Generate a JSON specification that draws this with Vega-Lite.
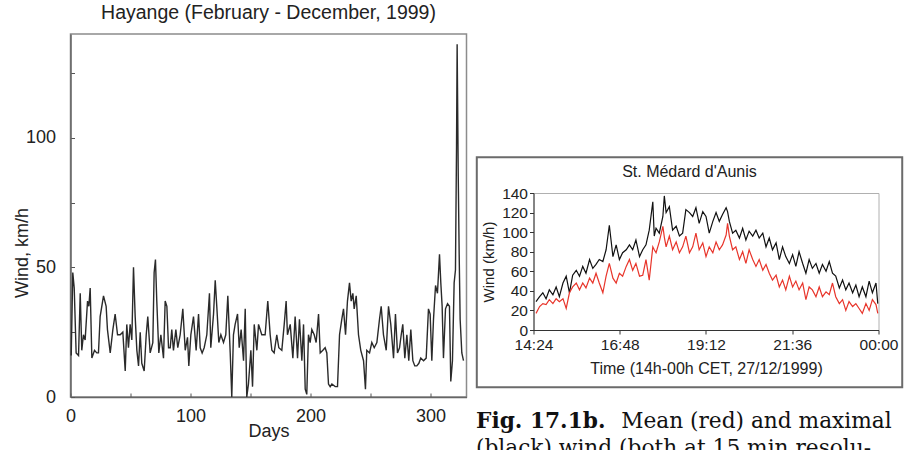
{
  "$schema": "https://vega.github.io/schema/vega-lite/v6.json",
  "padding": {"left": 12.5, "top": 2, "right": 0, "bottom": 0},
  "background": "white",
  "config": {"font": "Liberation Sans", "view": {"stroke": null}},
  "datasets": {
    "hay": [
      {"d":0.6,"v":16},{"d":1.9,"v":48},{"d":3.1,"v":42},{"d":4.7,"v":17},{"d":6.7,"v":16},{"d":8.1,"v":40},{"d":9.4,"v":18},{"d":10.8,"v":24},{"d":12.2,"v":22},{"d":14.2,"v":37},{"d":15.3,"v":35},{"d":16.4,"v":42},{"d":17.8,"v":15},{"d":20,"v":18},{"d":21.9,"v":17},{"d":23.3,"v":17},{"d":24.7,"v":31},{"d":27.5,"v":39},{"d":29.7,"v":35},{"d":30.8,"v":26},{"d":33.1,"v":17},{"d":35.3,"v":26},{"d":37.2,"v":32},{"d":39.2,"v":24},{"d":41.4,"v":24},{"d":43.6,"v":25},{"d":45.6,"v":10},{"d":46.9,"v":28},{"d":48.3,"v":19},{"d":49.7,"v":28},{"d":51.1,"v":22},{"d":52.5,"v":50},{"d":53.9,"v":31},{"d":55.3,"v":18},{"d":56.7,"v":12},{"d":58.1,"v":25},{"d":59.4,"v":13},{"d":61.4,"v":10},{"d":63.1,"v":24},{"d":64.4,"v":31},{"d":66.4,"v":17},{"d":68.6,"v":21},{"d":69.7,"v":48},{"d":70.8,"v":53},{"d":71.9,"v":37},{"d":73.6,"v":17},{"d":75.3,"v":24},{"d":77.5,"v":15},{"d":78.9,"v":37},{"d":80.3,"v":35},{"d":81.7,"v":19},{"d":83.1,"v":19},{"d":84.4,"v":26},{"d":85.8,"v":18},{"d":87.8,"v":26},{"d":89.4,"v":19},{"d":91.4,"v":24},{"d":93.6,"v":34},{"d":95.6,"v":18},{"d":97.5,"v":23},{"d":98.6,"v":12},{"d":100.3,"v":24},{"d":102.5,"v":31},{"d":104.7,"v":18},{"d":106.7,"v":32},{"d":108.1,"v":19},{"d":109.7,"v":17},{"d":111.4,"v":19},{"d":113.6,"v":24},{"d":115.8,"v":40},{"d":116.9,"v":19},{"d":119.2,"v":32},{"d":120.6,"v":45},{"d":121.9,"v":35},{"d":123.6,"v":21},{"d":125.3,"v":24},{"d":127.5,"v":21},{"d":129.4,"v":24},{"d":131.1,"v":39},{"d":133.1,"v":17},{"d":134.4,"v":0},{"d":135.8,"v":24},{"d":137.2,"v":28},{"d":139.2,"v":32},{"d":140.6,"v":19},{"d":142.2,"v":26},{"d":144.2,"v":14},{"d":145.6,"v":34},{"d":146.9,"v":0},{"d":148.3,"v":5},{"d":150.3,"v":18},{"d":151.7,"v":4},{"d":153.1,"v":28},{"d":155.3,"v":18},{"d":156.7,"v":28},{"d":159.4,"v":24},{"d":162.2,"v":24},{"d":164.4,"v":37},{"d":166.4,"v":24},{"d":167.8,"v":18},{"d":169.7,"v":17},{"d":171.9,"v":24},{"d":173.6,"v":19},{"d":176.1,"v":18},{"d":178.1,"v":28},{"d":179.7,"v":37},{"d":180.8,"v":24},{"d":183.1,"v":28},{"d":185.3,"v":15},{"d":187.2,"v":31},{"d":189.2,"v":15},{"d":190.8,"v":30},{"d":192.8,"v":14},{"d":194.2,"v":28},{"d":195.6,"v":3},{"d":196.9,"v":1},{"d":198.3,"v":24},{"d":199.7,"v":21},{"d":201.1,"v":26},{"d":203.1,"v":24},{"d":204.7,"v":21},{"d":206.7,"v":32},{"d":208.1,"v":17},{"d":210.3,"v":18},{"d":212.2,"v":19},{"d":213.6,"v":17},{"d":215,"v":5},{"d":216.4,"v":4},{"d":217.8,"v":5},{"d":220.6,"v":4},{"d":222.5,"v":4},{"d":224.2,"v":24},{"d":226.1,"v":30},{"d":227.5,"v":34},{"d":229.2,"v":24},{"d":230.8,"v":37},{"d":232.5,"v":44},{"d":233.9,"v":37},{"d":235.3,"v":40},{"d":236.4,"v":34},{"d":238.1,"v":39},{"d":240,"v":24},{"d":241.9,"v":18},{"d":244.2,"v":14},{"d":245.8,"v":3},{"d":246.9,"v":18},{"d":249.2,"v":17},{"d":251.1,"v":21},{"d":253.1,"v":19},{"d":255.3,"v":21},{"d":257.5,"v":30},{"d":258.9,"v":35},{"d":260.8,"v":24},{"d":263.1,"v":18},{"d":265,"v":35},{"d":266.9,"v":28},{"d":269.2,"v":15},{"d":270.8,"v":32},{"d":272.5,"v":17},{"d":274.2,"v":19},{"d":275.6,"v":24},{"d":276.9,"v":28},{"d":278.6,"v":15},{"d":280.3,"v":24},{"d":281.9,"v":14},{"d":283.6,"v":26},{"d":285.3,"v":14},{"d":286.9,"v":12},{"d":288.6,"v":12},{"d":290.3,"v":13},{"d":291.9,"v":15},{"d":294.2,"v":14},{"d":296.4,"v":15},{"d":298.3,"v":34},{"d":299.7,"v":32},{"d":301.1,"v":14},{"d":302.5,"v":30},{"d":304.2,"v":43},{"d":305.8,"v":40},{"d":307.5,"v":55},{"d":308.6,"v":44},{"d":309.7,"v":35},{"d":310.8,"v":15},{"d":312.5,"v":34},{"d":314.2,"v":36},{"d":315.8,"v":35},{"d":316.9,"v":6},{"d":318.3,"v":14},{"d":319.7,"v":44},{"d":320.8,"v":49},{"d":321.7,"v":97},{"d":322.2,"v":136},{"d":323.1,"v":86},{"d":323.9,"v":55},{"d":324.7,"v":30},{"d":326.1,"v":17},{"d":327.5,"v":14}
    ],
    "med": [
      {"t":14.47,"mx":29,"mn":17},{"t":14.57,"mx":34,"mn":24},{"t":14.66,"mx":38,"mn":27},{"t":14.75,"mx":32,"mn":26},{"t":14.84,"mx":41,"mn":31},{"t":14.94,"mx":36,"mn":27},{"t":15.03,"mx":44,"mn":32},{"t":15.12,"mx":34,"mn":29},{"t":15.22,"mx":48,"mn":32},{"t":15.31,"mx":55,"mn":22},{"t":15.40,"mx":38,"mn":38},{"t":15.49,"mx":56,"mn":44},{"t":15.59,"mx":61,"mn":48},{"t":15.68,"mx":55,"mn":41},{"t":15.77,"mx":65,"mn":48},{"t":15.86,"mx":58,"mn":43},{"t":15.96,"mx":72,"mn":53},{"t":16.05,"mx":63,"mn":48},{"t":16.14,"mx":67,"mn":58},{"t":16.23,"mx":72,"mn":48},{"t":16.33,"mx":70,"mn":38},{"t":16.42,"mx":82,"mn":55},{"t":16.51,"mx":107,"mn":68},{"t":16.61,"mx":75,"mn":53},{"t":16.70,"mx":87,"mn":48},{"t":16.79,"mx":72,"mn":58},{"t":16.88,"mx":79,"mn":55},{"t":16.98,"mx":82,"mn":65},{"t":17.07,"mx":87,"mn":72},{"t":17.16,"mx":82,"mn":61},{"t":17.25,"mx":92,"mn":68},{"t":17.35,"mx":75,"mn":55},{"t":17.44,"mx":82,"mn":56},{"t":17.53,"mx":87,"mn":72},{"t":17.62,"mx":102,"mn":51},{"t":17.72,"mx":131,"mn":85},{"t":17.76,"mx":96,"mn":82},{"t":17.81,"mx":104,"mn":79},{"t":17.90,"mx":99,"mn":90},{"t":18.00,"mx":116,"mn":106},{"t":18.04,"mx":137,"mn":95},{"t":18.09,"mx":120,"mn":85},{"t":18.18,"mx":126,"mn":96},{"t":18.27,"mx":102,"mn":82},{"t":18.37,"mx":106,"mn":90},{"t":18.46,"mx":96,"mn":79},{"t":18.55,"mx":99,"mn":85},{"t":18.64,"mx":123,"mn":96},{"t":18.74,"mx":120,"mn":79},{"t":18.83,"mx":116,"mn":85},{"t":18.92,"mx":125,"mn":99},{"t":19.01,"mx":109,"mn":82},{"t":19.11,"mx":121,"mn":89},{"t":19.20,"mx":116,"mn":75},{"t":19.29,"mx":99,"mn":85},{"t":19.39,"mx":111,"mn":79},{"t":19.48,"mx":120,"mn":90},{"t":19.57,"mx":111,"mn":82},{"t":19.66,"mx":118,"mn":87},{"t":19.76,"mx":125,"mn":97},{"t":19.80,"mx":121,"mn":109},{"t":19.85,"mx":111,"mn":96},{"t":19.94,"mx":99,"mn":82},{"t":20.03,"mx":102,"mn":85},{"t":20.13,"mx":94,"mn":72},{"t":20.22,"mx":104,"mn":80},{"t":20.31,"mx":92,"mn":68},{"t":20.40,"mx":101,"mn":82},{"t":20.50,"mx":96,"mn":72},{"t":20.59,"mx":102,"mn":65},{"t":20.68,"mx":94,"mn":72},{"t":20.78,"mx":99,"mn":61},{"t":20.87,"mx":85,"mn":67},{"t":20.96,"mx":94,"mn":58},{"t":21.05,"mx":82,"mn":51},{"t":21.15,"mx":89,"mn":56},{"t":21.24,"mx":72,"mn":44},{"t":21.33,"mx":85,"mn":51},{"t":21.42,"mx":75,"mn":41},{"t":21.52,"mx":68,"mn":55},{"t":21.61,"mx":77,"mn":44},{"t":21.70,"mx":65,"mn":50},{"t":21.79,"mx":80,"mn":41},{"t":21.89,"mx":68,"mn":48},{"t":21.98,"mx":58,"mn":31},{"t":22.07,"mx":72,"mn":44},{"t":22.16,"mx":63,"mn":41},{"t":22.26,"mx":68,"mn":34},{"t":22.35,"mx":58,"mn":44},{"t":22.44,"mx":67,"mn":34},{"t":22.54,"mx":60,"mn":39},{"t":22.63,"mx":70,"mn":36},{"t":22.72,"mx":58,"mn":48},{"t":22.81,"mx":55,"mn":34},{"t":22.91,"mx":43,"mn":27},{"t":23.00,"mx":51,"mn":31},{"t":23.09,"mx":41,"mn":20},{"t":23.18,"mx":48,"mn":29},{"t":23.28,"mx":38,"mn":24},{"t":23.37,"mx":46,"mn":27},{"t":23.46,"mx":34,"mn":22},{"t":23.55,"mx":44,"mn":17},{"t":23.65,"mx":34,"mn":27},{"t":23.74,"mx":50,"mn":20},{"t":23.83,"mx":38,"mn":31},{"t":23.93,"mx":48,"mn":26},{"t":23.98,"mx":27,"mn":17}
    ]
  },
  "spacing": 7,
  "hconcat": [
    {
      "width": 396,
      "height": 363,
      "data": {"name": "hay"},
      "view": {"stroke": "#8c8c8c", "strokeWidth": 1.5},
      "title": {"text": "Hayange (February - December, 1999)", "fontSize": 19.5, "fontWeight": "normal", "color": "#222", "baseline": "alphabetic", "offset": -4.5, "anchor": "middle"},
      "mark": {"type": "line", "color": "#2a2a2a", "strokeWidth": 1.4},
      "encoding": {
        "x": {"field": "d", "type": "quantitative", "scale": {"domain": [0, 330], "nice": false, "zero": false},
          "axis": {"title": "Days", "values": [0, 50, 100, 150, 200, 250, 300], "labelExpr": "datum.value % 100 == 0 ? datum.label : ''", "tickSize": -4, "labelPadding": 14, "labelFontSize": 18, "titleFontSize": 18, "titleFontWeight": "normal", "titlePadding": -3, "grid": false, "domainColor": "#666", "domainWidth": 1.5, "tickColor": "#555", "labelColor": "#222", "titleColor": "#222", "labelFlush": false, "labelOverlap": false}},
        "y": {"field": "v", "type": "quantitative", "scale": {"domain": [0, 140], "nice": false},
          "axis": {"title": "Wind, km/h", "values": [0, 25, 50, 75, 100, 125], "labelExpr": "datum.value % 50 == 0 ? datum.label : ''", "tickSize": -4, "labelPadding": 19, "labelFontSize": 18, "titleFontSize": 18, "titleFontWeight": "normal", "titleX": -48, "titleY": 218.5, "titleBaseline": "middle", "titleAngle": -90, "titleAlign": "center", "grid": false, "domainColor": "#666", "domainWidth": 1.5, "tickColor": "#555", "labelColor": "#222", "titleColor": "#222", "labelOverlap": false}}
      }
    },
    {
      "spacing": 0,
      "vconcat": [
        {"width": 1, "height": 121, "data": {"values": []}, "mark": "point", "encoding": {}},
        {
          "width": 345,
          "height": 137,
          "view": {"stroke": "#b0b0b0", "strokeWidth": 1},
          "resolve": {"axis": {"x": "independent", "y": "independent"}},
          "layer": [
            {
              "data": {"values": [{}]},
              "mark": {"type": "rect", "fill": "transparent", "stroke": "#6b6b6b", "strokeWidth": 2, "clip": false},
              "encoding": {
                "x": {"datum": 12.822, "type": "quantitative", "axis": null},
                "x2": {"datum": 24.66},
                "y": {"datum": 176.5, "type": "quantitative", "axis": null},
                "y2": {"datum": -58.6}
              }
            },
            {
              "data": {"name": "med"},
              "mark": {"type": "line", "color": "#111", "strokeWidth": 1.2},
              "encoding": {
                "x": {"field": "t", "type": "quantitative", "scale": {"domain": [14.4, 24], "nice": false, "zero": false},
                  "axis": {"title": "Time (14h-00h CET, 27/12/1999)", "values": [14.4, 16.8, 19.2, 21.6, 24], "labelExpr": "utcFormat(datum.value*3600000,'%H:%M')", "tickSize": 4, "labelPadding": 3, "labelFontSize": 15.5, "titleFontSize": 16, "titleFontWeight": "normal", "titlePadding": 8, "grid": false, "domainColor": "#333", "tickColor": "#333", "labelColor": "#222", "titleColor": "#222", "labelFlush": false, "labelOverlap": false}},
                "y": {"field": "mx", "type": "quantitative", "scale": {"domain": [0, 140], "nice": false},
                  "axis": {"title": "Wind (km/h)", "values": [0, 20, 40, 60, 80, 100, 120, 140], "tickSize": 4, "labelPadding": 2, "labelFontSize": 15.5, "titleFontSize": 15, "titleFontWeight": "normal", "titlePadding": 5, "grid": false, "domainColor": "#333", "tickColor": "#333", "labelColor": "#222", "titleColor": "#222"}}
              }
            },
            {
              "data": {"name": "med"},
              "mark": {"type": "line", "color": "#e8352b", "strokeWidth": 1.2},
              "encoding": {
                "x": {"field": "t", "type": "quantitative", "axis": null},
                "y": {"field": "mn", "type": "quantitative", "axis": null}
              }
            },
            {
              "data": {"values": [{}]},
              "mark": {"type": "text", "text": "St. Médard d'Aunis", "fontSize": 16, "align": "center", "baseline": "alphabetic", "color": "#222", "clip": false},
              "encoding": {
                "x": {"datum": 18.74, "type": "quantitative", "axis": null},
                "y": {"datum": 156, "type": "quantitative", "axis": null}
              }
            },
            {
              "data": {"values": [{}]},
              "mark": {"type": "text", "text": "Fig. 17.1b.", "font": "DejaVu Serif", "fontWeight": "bold", "fontSize": 21.7, "align": "left", "baseline": "alphabetic", "color": "#111", "clip": false},
              "encoding": {
                "x": {"datum": 12.8, "type": "quantitative", "axis": null},
                "y": {"datum": -100.3, "type": "quantitative", "axis": null}
              }
            },
            {
              "data": {"values": [{}]},
              "mark": {"type": "text", "text": "Mean (red) and maximal", "font": "DejaVu Serif", "fontSize": 21.7, "align": "left", "baseline": "alphabetic", "color": "#111", "clip": false},
              "encoding": {
                "x": {"datum": 16.84, "type": "quantitative", "axis": null},
                "y": {"datum": -100.3, "type": "quantitative", "axis": null}
              }
            },
            {
              "data": {"values": [{}]},
              "mark": {"type": "text", "text": "(black) wind (both at 15 min resolu-", "font": "DejaVu Serif", "fontWeight": "normal", "fontSize": 21.7, "align": "left", "baseline": "alphabetic", "color": "#111", "clip": false},
              "encoding": {
                "x": {"datum": 12.8, "type": "quantitative", "axis": null},
                "y": {"datum": -127.5, "type": "quantitative", "axis": null}
              }
            }
          ]
        }
      ]
    }
  ]
}
